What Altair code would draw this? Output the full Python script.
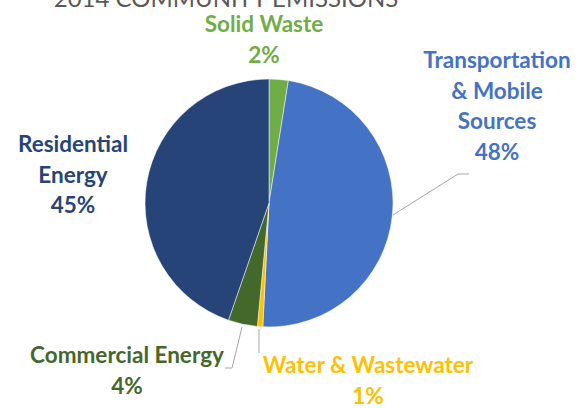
import altair as alt
import pandas as pd

categories = ["Solid Waste", "Transportation & Mobile Sources", "Water & Wastewater",
              "Commercial Energy", "Residential Energy"]
shares = [2.5, 48.3, 0.7, 3.8, 44.7]
pct_labels = ["2%", "48%", "1%", "4%", "45%"]
label_lines = [
    ["Solid Waste"],
    ["Transportation", "& Mobile", "Sources"],
    ["Water & Wastewater"],
    ["Commercial Energy"],
    ["Residential", "Energy"],
]
colors = ["#70AD47", "#4472C4", "#FFC000", "#43682B", "#264478"]
title_text = "2014 COMMUNITY EMISSIONS"

df = pd.DataFrame({
    "category": categories,
    "share": shares,
    "order": list(range(len(categories))),
    "label": ["\n".join(l + [p]) for l, p in zip(label_lines, pct_labels)],
})

CX, CY, R = 269, 203, 124

base = alt.Chart(df)

pie = base.mark_arc(radius=R, stroke="white", strokeWidth=0.5).encode(
    theta=alt.Theta("share:Q", stack=True),
    order=alt.Order("order:Q"),
    color=alt.Color("category:N", scale=alt.Scale(domain=categories, range=colors), legend=None),
    x=alt.value(CX),
    y=alt.value(CY),
)

label_pos = {
    "Solid Waste": (264, 32),
    "Transportation & Mobile Sources": (497, 68),
    "Water & Wastewater": (368, 373),
    "Commercial Energy": (127, 363),
    "Residential Energy": (73, 152),
}

layers = [pie]
for cat, col in zip(categories, colors):
    px, py = label_pos[cat]
    layers.append(
        base.transform_filter(alt.datum.category == cat).mark_text(
            font="Lato", fontWeight="bold", fontSize=22.5, lineHeight=30.5,
            lineBreak="\n", align="center", baseline="alphabetic", color=col,
        ).encode(text="label:N", x=alt.value(px), y=alt.value(py))
    )

one = base.transform_filter(alt.datum.order == 0)
leader = dict(color="#A6A6A6", strokeWidth=1)
segs = [
    (393, 215, 458, 174),
    (458, 174, 469, 174),
    (242, 327, 232, 368),
    (232, 368, 225, 368),
    (259, 329, 259, 353),
]
for x1, y1, x2, y2 in segs:
    layers.append(one.mark_rule(**leader).encode(
        x=alt.value(x1), y=alt.value(y1), x2=alt.value(x2), y2=alt.value(y2)))

layers.append(one.mark_text(
    font="Lato", fontSize=24, color="#595959", align="center", baseline="alphabetic"
).encode(text=alt.value(title_text), x=alt.value(226), y=alt.value(7)))

chart = alt.layer(*layers).properties(
    width=584, height=408, autosize=alt.AutoSizeParams(type="none"), padding=0
).configure_view(stroke=None)

chart.save("out.html", embed_options={"renderer": "svg", "actions": False})
